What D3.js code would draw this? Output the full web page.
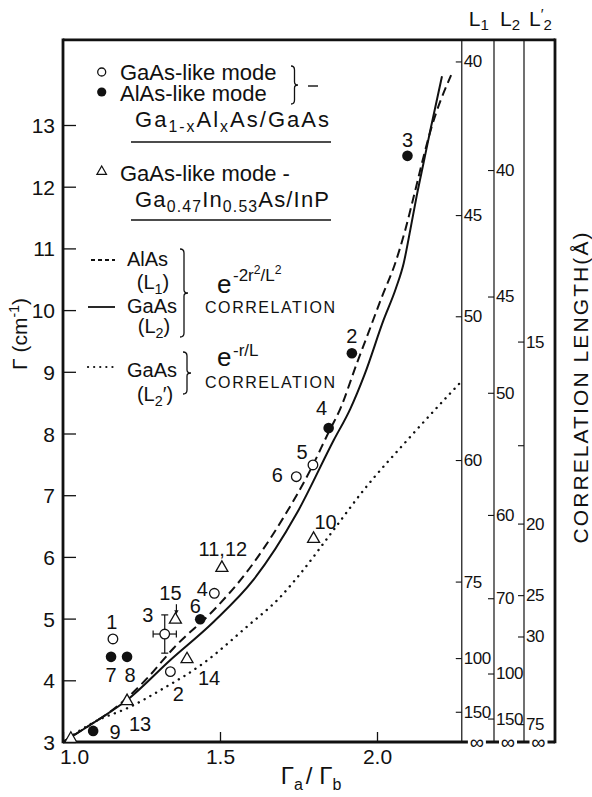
<!DOCTYPE html>
<html>
<head>
<meta charset="utf-8">
<script src="https://cdn.jsdelivr.net/npm/d3@7"></script>
<style>
  body { margin: 0; background: #fff; }
  text { font-family: "Liberation Sans", Arial, sans-serif; fill: #111; }
</style>
</head>
<body>
<svg id="chart" width="592" height="797"></svg>
<script>
// ---- data (x = Γa/Γb, y = Γ in cm-1) ----
// GaAs-like mode, Ga(1-x)Al(x)As/GaAs (open circles)
const openCircles = [
    {id: "1", r: 1.159, g: 4.67},
    {id: "2", r: 1.342, g: 4.14},
    {id: "3", r: 1.324, g: 4.75},
    {id: "4", r: 1.482, g: 5.41},
    {id: "5", r: 1.796, g: 7.49},
    {id: "6", r: 1.743, g: 7.30}
];
// AlAs-like mode (filled circles)
const filledCircles = [
    {id: "7", r: 1.153, g: 4.38},
    {id: "8", r: 1.204, g: 4.38},
    {id: "9", r: 1.096, g: 3.18},
    {id: "6", r: 1.437, g: 4.99},
    {id: "4", r: 1.846, g: 8.09},
    {id: "2", r: 1.920, g: 9.30},
    {id: "3", r: 2.097, g: 12.50}
];
// GaAs-like mode, Ga0.47In0.53As/InP (triangles)
const triangles = [
    {id: "15", r: 1.358, g: 4.99},
    {id: "14", r: 1.395, g: 4.35},
    {id: "13", r: 1.204, g: 3.67},
    {id: "11,12", r: 1.506, g: 5.83},
    {id: "10", r: 1.798, g: 6.30},
    {id: "", r: 1.025, g: 3.06}
];
// error bar on open point 3
const errorBar = {r: 1.324, g: 4.75, dr: 0.037, dg: 0.31};

// theory curves
const curveAlAsL1 = [[1.0,3.0],[1.087,3.28],[1.145,3.47],[1.262,4.0],[1.352,4.52],[1.49,5.19],[1.58,5.72],
    [1.70,6.62],[1.788,7.41],[1.846,8.02],[1.883,8.40],[1.936,9.14],[1.968,9.57],[2.016,10.22],[2.058,10.76],
    [2.09,11.3],[2.117,11.84],[2.143,12.38],[2.17,12.9],[2.236,13.81]];
const curveGaAsL2 = [[1.0,3.0],[1.1,3.32],[1.204,3.68],[1.342,4.33],[1.48,4.95],[1.607,5.63],[1.745,6.71],
    [1.862,7.89],[1.915,8.40],[1.96,8.95],[2.021,9.84],[2.06,10.35],[2.085,10.76],[2.106,11.3],[2.126,11.84],
    [2.148,12.38],[2.17,12.92],[2.207,13.79]];
const curveGaAsL2p = [[1.0,3.0],[1.098,3.32],[1.214,3.57],[1.31,3.84],[1.448,4.28],[1.586,4.87],[1.692,5.35],
    [1.756,5.73],[1.862,6.44],[1.957,7.08],[2.096,7.89],[2.233,8.65],[2.27,8.85]];

// axis ticks
const yTicks = [3, 4, 5, 6, 7, 8, 9, 10, 11, 12, 13];
const xTicks = [1.0, 1.5, 2.0];
// correlation-length scales: [label, Γ level it sits at]
const l1Ticks = [["40", 14.03], ["45", 11.54], ["50", 9.90], ["60", 7.57], ["75", 5.60], ["100", 4.36], ["150", 3.49]];
const l2Ticks = [["40", 12.27], ["45", 10.22], ["50", 8.66], ["60", 6.68], ["70", 5.33], ["100", 4.11], ["150", 3.38]];
const l2pTicks = [["15", 9.49], ["", 7.81], ["20", 6.54], ["25", 5.38], ["30", 4.71], ["75", 3.29]];

// ---- layout ----
const svg = d3.select("#chart");
let x = d3.scaleLinear().domain([1, 2]).range([63, 377]);
let y = d3.scaleLinear().domain([3, 13]).range([742, 125]);
let xMax = 2.27, yMax = 14.38;
let plotLeft = x(1), plotRight = x(xMax), plotTop = y(yMax), plotBottom = y(3);
let lineL1 = plotRight, lineL2 = 494, lineL2p = 524, border = 555;

// label offsets (px) for the point numbers
const openOffsets = [[-1,-17],[8,22],[-17,-19],[-12,-5],[-11,-13],[-19,-2]];
const filledOffsets = [[0,18],[3,18],[22,1],[-5,-13],[-7,-20],[0,-17],[0,-16]];
const triOffsets = [[-5,-26],[22,19],[13,23],[1,-19],[12,-17],[0,0]];

// ---- frame ----
function frameLine(x1, y1, x2, y2, w) {
    return svg.append("line").attr("x1", x1).attr("y1", y1).attr("x2", x2).attr("y2", y2)
        .attr("stroke", "#111").attr("stroke-width", w);
}
frameLine(plotLeft, plotTop, border, plotTop, 2.6);
frameLine(plotLeft, plotTop - 1.3, plotLeft, plotBottom + 1.3, 2.8);
frameLine(plotLeft, plotBottom, border, plotBottom, 2.8);
frameLine(border, plotTop - 1.3, border, plotBottom + 1.3, 2.8);
[lineL1, lineL2, lineL2p].forEach(function (lx) { frameLine(lx, plotTop, lx, plotBottom, 1.2); });

// left axis
let yAxis = d3.axisLeft(y).tickValues(yTicks).tickSizeInner(-13).tickSizeOuter(0).tickPadding(8);
let gy = svg.append("g").attr("transform", "translate(" + plotLeft + ",0)").call(yAxis);
gy.select(".domain").remove();
gy.selectAll("line").attr("stroke", "#111").attr("stroke-width", 1.3);
gy.selectAll("text").attr("font-size", 21).attr("fill", "#111").attr("dy", "0.36em");

// bottom axis
let xAxis = d3.axisBottom(x).tickValues(xTicks).tickFormat(d3.format(".1f")).tickSizeInner(-10).tickSizeOuter(0).tickPadding(6);
let gx = svg.append("g").attr("transform", "translate(0," + plotBottom + ")").call(xAxis);
gx.select(".domain").remove();
gx.selectAll("line").attr("stroke", "#111").attr("stroke-width", 1.3);
gx.selectAll("text").attr("font-size", 21).attr("fill", "#111").attr("dy", "0.75em")
    .attr("dx", function (d) { return d === 1 ? 11 : 0; });

// correlation-length axes
function lengthAxis(lx, ticks) {
    let ax = d3.axisRight(y)
        .tickValues(ticks.map(function (t) { return t[1]; }))
        .tickFormat(function (d, i) { return ticks[i][0]; })
        .tickSizeInner(-6).tickSizeOuter(0).tickPadding(2);
    let g = svg.append("g").attr("transform", "translate(" + lx + ",0)").call(ax);
    g.select(".domain").remove();
    g.selectAll("line").attr("stroke", "#111").attr("stroke-width", 1.1);
    g.selectAll("text").attr("font-size", 17).attr("fill", "#111").attr("letter-spacing", -0.5);
}
lengthAxis(lineL1, l1Ticks);
lengthAxis(lineL2, l2Ticks);
lengthAxis(lineL2p, l2pTicks);

// infinity marks at the bottom of each length scale
[[lineL1, lineL2], [lineL2, lineL2p], [lineL2p, border]].forEach(function (pair) {
    let cx = (pair[0] + pair[1]) / 2 - 1;
    svg.append("rect").attr("x", cx - 9).attr("y", plotBottom - 4).attr("width", 18).attr("height", 8).attr("fill", "#fff");
    svg.append("text").attr("x", cx).attr("y", plotBottom + 7).attr("text-anchor", "middle")
        .attr("font-size", 20).text("∞");
});

// L headers
function lHeader(cx, sub, prime) {
    let t = svg.append("text").attr("x", cx).attr("y", 26).attr("text-anchor", "middle").attr("font-size", 21);
    t.append("tspan").text("L");
    if (prime) {
        t.append("tspan").attr("font-size", 15).attr("baseline-shift", "7px").text("′");
        t.append("tspan").attr("font-size", 15).attr("baseline-shift", "-4px").text(sub);
    } else {
        t.append("tspan").attr("font-size", 15).attr("baseline-shift", "-4px").text(sub);
    }
}
lHeader((lineL1 + lineL2) / 2 + 1, "1", false);
lHeader((lineL2 + lineL2p) / 2 + 1, "2", false);
lHeader((lineL2p + border) / 2 + 1, "2", true);

// axis titles
let yt = svg.append("text").attr("transform", "translate(27,334) rotate(-90)")
    .attr("text-anchor", "middle").attr("font-size", 21);
yt.append("tspan").text("Γ (cm");
yt.append("tspan").attr("font-size", 14).attr("baseline-shift", "8px").text("-1");
yt.append("tspan").text(")");

let xt = svg.append("text").attr("x", 311).attr("y", 784).attr("text-anchor", "middle").attr("font-size", 24);
xt.append("tspan").text("Γ");
xt.append("tspan").attr("font-size", 16).attr("baseline-shift", "-6px").text("a");
xt.append("tspan").attr("dx", 3).text("/ Γ");
xt.append("tspan").attr("font-size", 16).attr("baseline-shift", "-6px").text("b");

svg.append("text").attr("transform", "translate(588,388) rotate(-90)")
    .attr("text-anchor", "middle").attr("font-size", 21)
    .attr("textLength", 311).attr("lengthAdjust", "spacing")
    .text("CORRELATION LENGTH(Å)");

// ---- curves ----
let clip = svg.append("clipPath").attr("id", "plotClip");
clip.append("rect").attr("x", plotLeft).attr("y", plotTop).attr("width", plotRight - plotLeft).attr("height", plotBottom - plotTop);
let line = d3.line().x(function (d) { return x(d[0]); }).y(function (d) { return y(d[1]); }).curve(d3.curveMonotoneX);
let curves = svg.append("g").attr("clip-path", "url(#plotClip)");
curves.append("path").attr("d", line(curveAlAsL1)).attr("fill", "none").attr("stroke", "#111")
    .attr("stroke-width", 2).attr("stroke-dasharray", "9,5");
curves.append("path").attr("d", line(curveGaAsL2)).attr("fill", "none").attr("stroke", "#111")
    .attr("stroke-width", 2);
curves.append("path").attr("d", line(curveGaAsL2p)).attr("fill", "none").attr("stroke", "#111")
    .attr("stroke-width", 2.4).attr("stroke-linecap", "round").attr("stroke-dasharray", "0.1,6.5");

// ---- error bar ----
let eb = svg.append("g").attr("stroke", "#111").attr("stroke-width", 1.2);
eb.append("line").attr("x1", x(errorBar.r - errorBar.dr)).attr("x2", x(errorBar.r + errorBar.dr))
    .attr("y1", y(errorBar.g)).attr("y2", y(errorBar.g));
eb.append("line").attr("x1", x(errorBar.r)).attr("x2", x(errorBar.r))
    .attr("y1", y(errorBar.g - errorBar.dg)).attr("y2", y(errorBar.g + errorBar.dg));
[-1, 1].forEach(function (s) {
    eb.append("line").attr("x1", x(errorBar.r + s * errorBar.dr)).attr("x2", x(errorBar.r + s * errorBar.dr))
        .attr("y1", y(errorBar.g) - 3.5).attr("y2", y(errorBar.g) + 3.5);
    eb.append("line").attr("x1", x(errorBar.r) - 3.5).attr("x2", x(errorBar.r) + 3.5)
        .attr("y1", y(errorBar.g + s * errorBar.dg)).attr("y2", y(errorBar.g + s * errorBar.dg));
});

// ---- markers ----
let triPath = "M0,-6.5L6,4L-6,4Z";
svg.append("g").selectAll("circle").data(openCircles).enter().append("circle")
    .attr("cx", function (d) { return x(d.r); }).attr("cy", function (d) { return y(d.g); })
    .attr("r", 4.8).attr("fill", "#fff").attr("stroke", "#111").attr("stroke-width", 1.3);
svg.append("g").selectAll("circle").data(filledCircles).enter().append("circle")
    .attr("cx", function (d) { return x(d.r); }).attr("cy", function (d) { return y(d.g); })
    .attr("r", 5.3).attr("fill", "#111");
svg.append("g").selectAll("path").data(triangles).enter().append("path")
    .attr("d", triPath)
    .attr("transform", function (d) { return "translate(" + x(d.r) + "," + y(d.g) + ")"; })
    .attr("fill", "#fff").attr("stroke", "#111").attr("stroke-width", 1.3);

// point numbers
function pointLabels(data, offsets) {
    svg.append("g").selectAll("text").data(data).enter().append("text")
        .attr("x", function (d, i) { return x(d.r) + offsets[i][0]; })
        .attr("y", function (d, i) { return y(d.g) + offsets[i][1]; })
        .attr("text-anchor", "middle").attr("dy", "0.36em").attr("font-size", 20)
        .text(function (d) { return d.id; });
}
pointLabels(openCircles, openOffsets);
pointLabels(filledCircles, filledOffsets);
pointLabels(triangles, triOffsets);

// little arrow from "15" down to its triangle
let t15 = triangles[0];
svg.append("line").attr("x1", x(t15.r) + 1).attr("x2", x(t15.r) + 1)
    .attr("y1", y(t15.g) - 15).attr("y2", y(t15.g) - 8).attr("stroke", "#111").attr("stroke-width", 1.2);
svg.append("path").attr("d", "M-2.2,0L2.2,0L0,4Z")
    .attr("transform", "translate(" + (x(t15.r) + 1) + "," + (y(t15.g) - 9) + ")").attr("fill", "#111");

// ---- legend ----
function rich(xp, yp, parts, size, anchor) {
    let t = svg.append("text").attr("x", xp).attr("y", yp).attr("font-size", size)
        .attr("text-anchor", anchor || "start");
    parts.forEach(function (p) {
        let s = t.append("tspan").text(p[0]);
        if (p[1] === "sub") s.attr("font-size", size * 0.72).attr("baseline-shift", "-5px");
        if (p[1] === "sup") s.attr("font-size", size * 0.72).attr("baseline-shift", (size * 0.42) + "px");
    });
    return t;
}
function brace(bx, y0, y1, w) {
    let ym = (y0 + y1) / 2;
    let p = "M" + bx + "," + y0 +
        "Q" + (bx + w) + "," + y0 + " " + (bx + w) + "," + (y0 + 4) +
        "L" + (bx + w) + "," + (ym - 3) +
        "Q" + (bx + w) + "," + ym + " " + (bx + 2 * w) + "," + ym +
        "Q" + (bx + w) + "," + ym + " " + (bx + w) + "," + (ym + 3) +
        "L" + (bx + w) + "," + (y1 - 4) +
        "Q" + (bx + w) + "," + y1 + " " + bx + "," + y1;
    svg.append("path").attr("d", p).attr("fill", "none").attr("stroke", "#111").attr("stroke-width", 1.3);
}

svg.append("circle").attr("cx", 101.7).attr("cy", 72).attr("r", 4).attr("fill", "#fff")
    .attr("stroke", "#111").attr("stroke-width", 1.3);
rich(120, 80, [["GaAs-like mode"]], 22);
svg.append("circle").attr("cx", 101.7).attr("cy", 92).attr("r", 4.6).attr("fill", "#111");
rich(120, 101, [["AlAs-like mode"]], 22);
brace(291, 66, 104, 3.5);
frameLine(308, 86, 318, 86, 1.4);
rich(135, 127, [["Ga"], ["1-x", "sub"], ["Al"], ["x", "sub"], ["As/GaAs"]], 22).attr("textLength", 194);
frameLine(131, 142, 331, 142, 1.3);

svg.append("path").attr("d", "M0,-5L4.8,3.4L-4.8,3.4Z").attr("transform", "translate(101.7,171)")
    .attr("fill", "#fff").attr("stroke", "#111").attr("stroke-width", 1.2);
rich(120, 181, [["GaAs-like mode -"]], 22);
rich(135, 207, [["Ga"], ["0.47", "sub"], ["In"], ["0.53", "sub"], ["As/InP"]], 22).attr("textLength", 194);
frameLine(131, 220, 331, 220, 1.3);

// line-style keys
frameLine(91, 260, 115, 260, 1.8).attr("stroke-dasharray", "4,3");
frameLine(88, 307, 115, 307, 1.8);
frameLine(88, 367, 113, 367, 2.2).attr("stroke-linecap", "round").attr("stroke-dasharray", "0.1,6");

rich(127, 266, [["AlAs"]], 20);
rich(153, 289, [["(L"], ["1", "sub"], [")"]], 20, "middle");
rich(127, 313, [["GaAs"]], 20);
rich(154, 333, [["(L"], ["2", "sub"], [")"]], 20, "middle");
brace(180, 249, 337, 4);
rich(217, 293, [["e"]], 26);
rich(233, 281, [["-2r"], ["2", "sup"], ["/L"], ["2", "sup"]], 17);
svg.append("text").attr("x", 205).attr("y", 313).attr("font-size", 16).attr("textLength", 130)
    .attr("lengthAdjust", "spacing").text("CORRELATION");

rich(127, 377, [["GaAs"]], 20);
rich(155, 401, [["(L"], ["2", "sub"], ["′)"]], 20, "middle");
brace(183, 352, 394, 4);
rich(217, 366, [["e"]], 26);
rich(233, 356, [["-r/L"]], 17);
svg.append("text").attr("x", 205).attr("y", 388).attr("font-size", 16).attr("textLength", 130)
    .attr("lengthAdjust", "spacing").text("CORRELATION");
</script>
</body>
</html>
